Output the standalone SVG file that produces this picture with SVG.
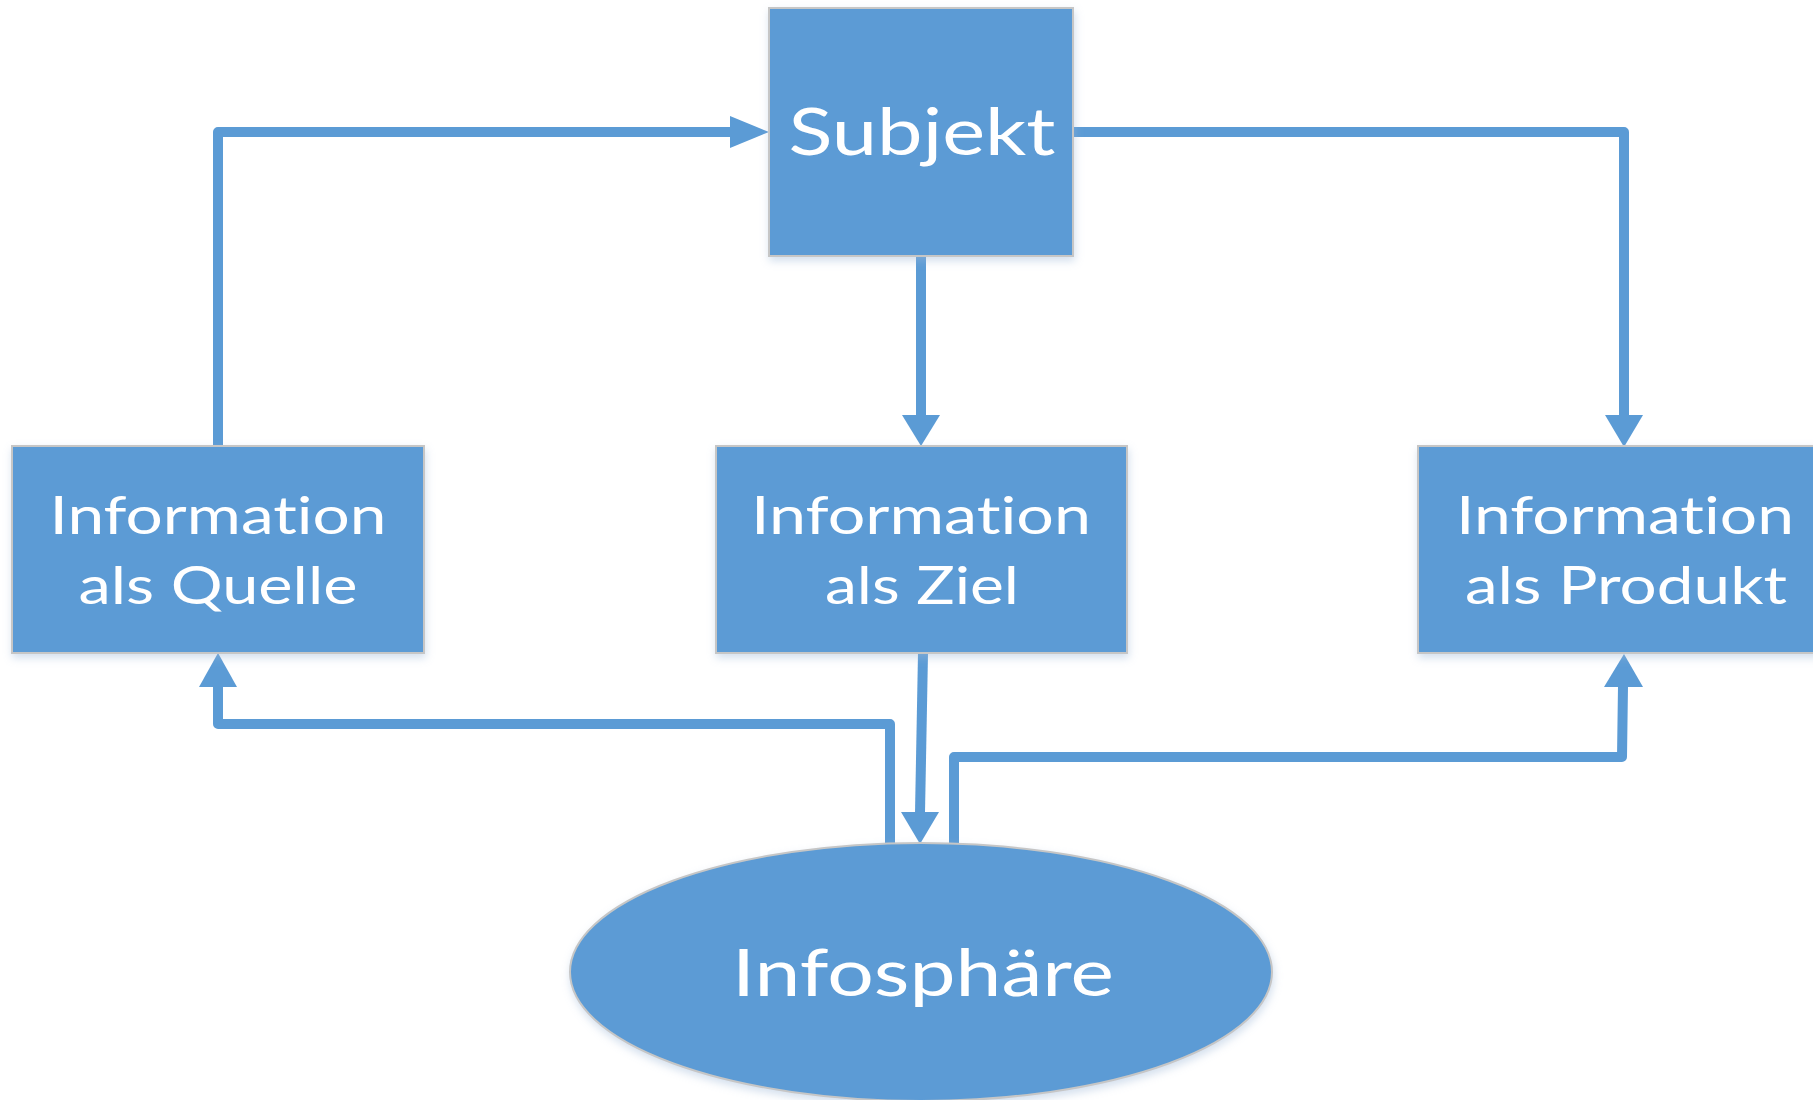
<svg xmlns="http://www.w3.org/2000/svg" width="1813" height="1100" viewBox="0 0 1813 1100">
<style>
.box{fill:#5B9BD5;stroke:#C6C6C6;stroke-width:2;filter:url(#sh)}
.lbl{font-family:Lato,"Open Sans","Liberation Sans",sans-serif;fill:#FFFFFF;text-anchor:middle;font-variant-ligatures:none;font-feature-settings:"liga" 0,"clig" 0}
.l52{font-size:52px}
.l66{font-size:66px}
.conn path{fill:none;stroke:#5B9BD5;stroke-width:10;stroke-linejoin:round}
.conn polygon{fill:#5B9BD5}
</style>
<defs>
<filter id="sh" x="-10%" y="-10%" width="120%" height="130%">
<feDropShadow dx="1" dy="4" stdDeviation="4" flood-color="#9DB8D8" flood-opacity="0.45"/>
</filter>
</defs>
<rect width="1813" height="1100" fill="#FFFFFF"/>
<g id="connectors" class="conn">
<path d="M218,446 V132 H731"/>
<polygon points="730,116 769,132 730,148"/>
<path d="M1073,132 H1624 V416"/>
<polygon points="1605,415 1643,415 1624,447"/>
<path d="M921,256 V416"/>
<polygon points="902,415 940,415 921,446"/>
<path d="M923,653 L920,813"/>
<polygon points="901,812 939,812 920,844"/>
<path d="M890,845 V724 H218 V686"/>
<polygon points="199,687 237,687 218,653"/>
<path d="M954,845 V757 H1622 L1623,686"/>
<polygon points="1604,687 1643,687 1624,654"/>
</g>
<g id="subjekt">
<rect class="box" x="769" y="8" width="304" height="248"/>
<text class="lbl l66" x="922" y="155" textLength="267" lengthAdjust="spacingAndGlyphs">Subjekt</text>
</g>
<g id="quelle">
<rect class="box" x="12" y="446" width="412" height="207"/>
<text class="lbl l52" x="218" y="534" textLength="337" lengthAdjust="spacingAndGlyphs">Information</text>
<text class="lbl l52" x="218" y="604" textLength="279" lengthAdjust="spacingAndGlyphs">als Quelle</text>
</g>
<g id="ziel">
<rect class="box" x="716" y="446" width="411" height="207"/>
<text class="lbl l52" x="921" y="534" textLength="340" lengthAdjust="spacingAndGlyphs">Information</text>
<text class="lbl l52" x="922" y="604" textLength="194" lengthAdjust="spacingAndGlyphs">als Ziel</text>
</g>
<g id="produkt">
<rect class="box" x="1418" y="446" width="420" height="207"/>
<text class="lbl l52" x="1625" y="534" textLength="338" lengthAdjust="spacingAndGlyphs">Information</text>
<text class="lbl l52" x="1626" y="604" textLength="322" lengthAdjust="spacingAndGlyphs">als Produkt</text>
</g>
<g id="infosphaere">
<ellipse class="box" cx="921" cy="972" rx="351" ry="129"/>
<text class="lbl l66" x="923" y="996" textLength="382" lengthAdjust="spacingAndGlyphs">Infosphäre</text>
</g>
</svg>
